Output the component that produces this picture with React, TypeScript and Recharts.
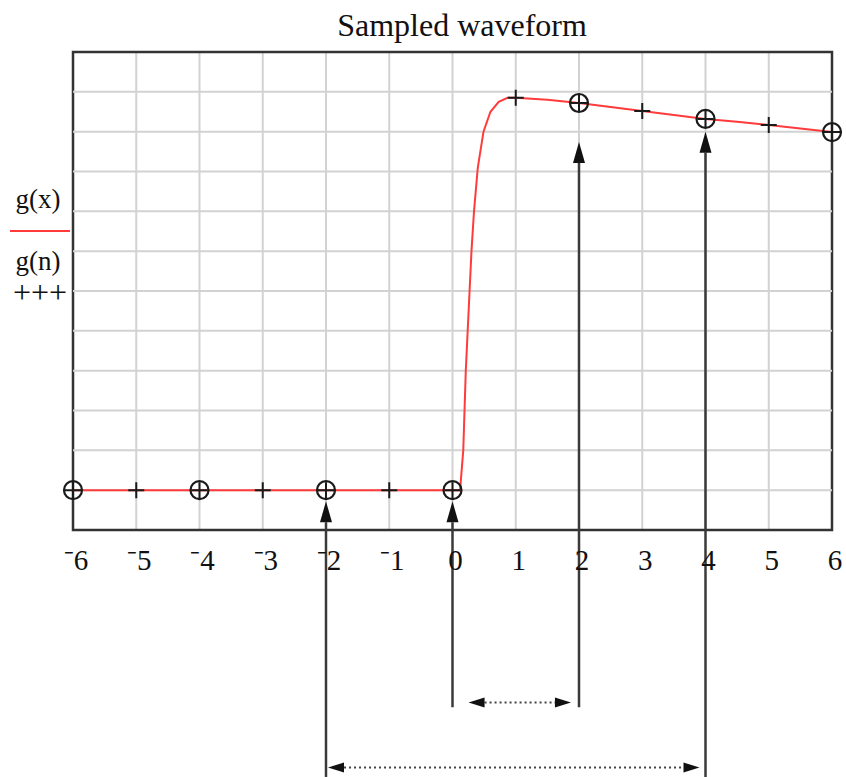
import React from 'react';
import {
  ComposedChart,
  Line,
  Scatter,
  XAxis,
  YAxis,
  CartesianGrid,
  ReferenceLine,
  ReferenceArea,
  Legend,
} from 'recharts';

// ---------- data ----------
const xTicks = [-6, -5, -4, -3, -2, -1, 0, 1, 2, 3, 4, 5, 6];
const xTickLabels = ['\u207B6', '\u207B5', '\u207B4', '\u207B3', '\u207B2', '\u207B1', '0', '1', '2', '3', '4', '5', '6'];
const yTicks = [-0.1, 0, 0.1, 0.2, 0.3, 0.4, 0.5, 0.6, 0.7, 0.8, 0.9, 1.0, 1.1];
const yGridValues = [0, 0.1, 0.2, 0.3, 0.4, 0.5, 0.6, 0.7, 0.8, 0.9, 1.0];

// continuous waveform g(x)
const curveX = [-6, -5, -4, -3, -2, -1, 0, 0.12, 0.17, 0.21, 0.27, 0.3, 0.34, 0.4, 0.49, 0.6, 0.73, 0.87, 1, 1.5, 2, 2.5, 3, 3.5, 4, 4.5, 5, 5.5, 6];
const curveG = [0, 0, 0, 0, 0, 0, 0, 0, 0.1, 0.3, 0.5, 0.6, 0.7, 0.81, 0.9, 0.95, 0.975, 0.985, 0.985, 0.98, 0.972, 0.962, 0.952, 0.942, 0.932, 0.925, 0.917, 0.908, 0.899];

// samples g(n)
const sampleN = [-6, -5, -4, -3, -2, -1, 0, 1, 2, 3, 4, 5, 6];
const sampleG = [0, 0, 0, 0, 0, 0, 0, 0.985, 0.972, 0.952, 0.932, 0.917, 0.899];

// every second sample (circled)
const evenN = [-6, -4, -2, 0, 2, 4, 6];
const evenG = [0, 0, 0, 0, 0.972, 0.932, 0.899];

// annotation arrows (data units)
const vArrowX = [-2, 0, 2, 4];
const vArrowFrom = [-0.72, -0.545, -0.545, -0.72];
const vArrowTo = [-0.028, -0.028, 0.874, 0.9];
const hArrowY = [-0.533, -0.696];
const hArrowFrom = [0.254, -1.968];
const hArrowTo = [1.873, 3.905];

const seriesNames = ['g(x)', 'g(n)'];
const title = 'Sampled waveform';

// ---------- derived tables ----------
const curveData = curveX.map((x, i) => ({ x, g: curveG[i] }));
const sampleData = sampleN.map((x, i) => ({ x, g: sampleG[i] }));
const evenData = evenN.map((x, i) => ({ x, g: evenG[i] }));

// ---------- styles ----------
const SERIF = '"Liberation Serif", "Times New Roman", serif';
const RED = '#ff3b3b';
const INK = '#1a1a1a';
const GRID = '#d2d2d2';

const headPoints = (x1: number, y1: number, x2: number, y2: number, len: number, half: number) => {
  const dx = x2 - x1;
  const dy = y2 - y1;
  const L = Math.hypot(dx, dy) || 1;
  const ux = dx / L;
  const uy = dy / L;
  const bx = x2 - ux * len;
  const by = y2 - uy * len;
  const px = -uy;
  const py = ux;
  return {
    pts: `${x2},${y2} ${bx + px * half},${by + py * half} ${bx - px * half},${by - py * half}`,
    bx,
    by,
  };
};

const VArrow = (props: any) => {
  const { x1, y1, x2, y2 } = props;
  const h = headPoints(x1, y1, x2, y2, 21, 6);
  return (
    <g>
      <line x1={x1} y1={y1} x2={h.bx} y2={h.by} stroke="#3a3a3a" strokeWidth={2.5} />
      <polygon points={h.pts} fill="#111" />
    </g>
  );
};

const HArrow = (props: any) => {
  const { x1, y1, x2, y2 } = props;
  const a = headPoints(x1, y1, x2, y2, 16, 5);
  const b = headPoints(x2, y2, x1, y1, 16, 5);
  return (
    <g>
      <line x1={b.bx} y1={b.by} x2={a.bx} y2={a.by} stroke="#444" strokeWidth={2} strokeDasharray="2 3" />
      <polygon points={a.pts} fill="#111" />
      <polygon points={b.pts} fill="#111" />
    </g>
  );
};

const PlusShape = (props: any) => {
  const { cx, cy } = props;
  if (cx == null || cy == null) return <g />;
  const r = 8;
  return (
    <path d={`M${cx - r},${cy}H${cx + r}M${cx},${cy - r}V${cy + r}`} stroke={INK} strokeWidth={2} fill="none" />
  );
};

const CircleShape = (props: any) => {
  const { cx, cy } = props;
  if (cx == null || cy == null) return <g />;
  return <circle cx={cx} cy={cy} r={9} stroke={INK} strokeWidth={2.2} fill="none" />;
};

const renderTick = (props: any) => {
  const { x, y, payload, index } = props;
  const idx = xTicks.indexOf(payload.value);
  const label = xTickLabels[idx >= 0 ? idx : index];
  return (
    <text x={x + 3} y={y + 40} textAnchor="middle" fontFamily={SERIF} fontSize={29} fill="#111">
      {label}
    </text>
  );
};

const renderLegend = () => (
  <div style={{ position: 'relative', width: 80, height: 320, fontFamily: SERIF, color: '#111' }}>
    <div style={{ position: 'absolute', left: 0, width: 76, top: 186, fontSize: 27, lineHeight: '27px', textAlign: 'center' }}>
      {seriesNames[0]}
    </div>
    <div style={{ position: 'absolute', left: 10, width: 60, top: 230, height: 2, background: RED }} />
    <div style={{ position: 'absolute', left: 0, width: 76, top: 248, fontSize: 27, lineHeight: '26px', textAlign: 'center' }}>
      {seriesNames[1]}
    </div>
    <div style={{ position: 'absolute', left: 0, width: 80, top: 280, fontSize: 32, lineHeight: '24px', textAlign: 'center', letterSpacing: 0 }}>
      +++
    </div>
  </div>
);

export default function App() {
  return (
    <div style={{ position: 'absolute', left: 0, top: 0, width: 846, height: 777, background: '#fff' }}>
      <div
        style={{
          position: 'absolute',
          left: 462,
          top: 9,
          transform: 'translateX(-50%)',
          whiteSpace: 'nowrap',
          fontFamily: SERIF,
          fontSize: 32,
          lineHeight: '32px',
          color: '#111',
        }}
      >
        {title}
      </div>
      <ComposedChart
        width={846}
        height={777}
        margin={{ top: 52, right: 14, bottom: 187, left: 73 }}
        style={{ position: 'absolute', left: 0, top: 0 }}
      >
        <CartesianGrid stroke={GRID} strokeWidth={2} horizontal={false} />
        <XAxis
          dataKey="x"
          type="number"
          domain={[-6, 6]}
          ticks={xTicks}
          axisLine={false}
          tickLine={false}
          tickSize={0}
          tickMargin={0}
          height={60}
          tick={renderTick}
          interval={0}
        />
        <YAxis
          type="number"
          domain={[-0.1, 1.1]}
          ticks={yTicks}
          axisLine={false}
          tickLine={false}
          tick={false}
          width={0}
        />
        {yGridValues.map((v) => (
          <ReferenceLine key={`g${v}`} y={v} stroke={GRID} strokeWidth={2} ifOverflow="visible" />
        ))}
        <ReferenceArea
          x1={-6}
          x2={6}
          y1={-0.1}
          y2={1.1}
          fill="none"
          fillOpacity={0}
          stroke="#333"
          strokeWidth={2.5}
          ifOverflow="visible"
        />
        <Line
          data={curveData}
          dataKey="g"
          name={seriesNames[0]}
          type="linear"
          stroke={RED}
          strokeWidth={2}
          dot={false}
          activeDot={false}
          isAnimationActive={false}
        />
        <Scatter data={sampleData} dataKey="g" name={seriesNames[1]} shape={PlusShape} isAnimationActive={false} />
        <Scatter data={evenData} dataKey="g" name="samples" legendType="none" shape={CircleShape} isAnimationActive={false} />
        {vArrowX.map((x, i) => (
          <ReferenceLine
            key={`v${i}`}
            segment={[
              { x, y: vArrowFrom[i] },
              { x, y: vArrowTo[i] },
            ]}
            ifOverflow="visible"
            shape={VArrow}
          />
        ))}
        {hArrowY.map((y, i) => (
          <ReferenceLine
            key={`h${i}`}
            segment={[
              { x: hArrowFrom[i], y },
              { x: hArrowTo[i], y },
            ]}
            ifOverflow="visible"
            shape={HArrow}
          />
        ))}
        <Legend
          layout="horizontal"
          verticalAlign="middle"
          align="center"
          content={renderLegend}
          wrapperStyle={{ left: 0, top: 0, width: 80, height: 320 }}
        />
      </ComposedChart>
    </div>
  );
}
